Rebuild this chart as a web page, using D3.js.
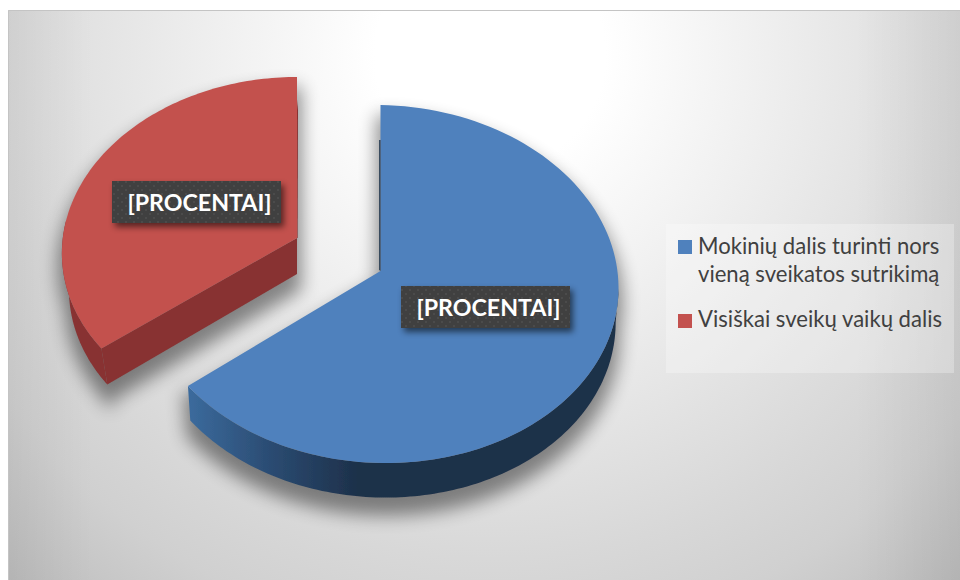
<!DOCTYPE html>
<html><head><meta charset="utf-8">
<script src="https://cdn.jsdelivr.net/npm/d3@7"></script>
<style>html,body{margin:0;padding:0;background:#fff;overflow:hidden}svg{display:block}</style>
</head><body><svg id="c" width="960" height="580"></svg>
<script>
const categories = ["Mokinių dalis turinti nors vieną sveikatos sutrikimą", "Visiškai sveikų vaikų dalis"];
const legendLines = [["Mokinių dalis turinti nors", "vieną sveikatos sutrikimą"], ["Visiškai sveikų vaikų dalis"]];
const values = [65, 35];
const dataLabels = ["[PROCENTAI]", "[PROCENTAI]"];
const topColors = ["#4f81bd", "#c3514e"];
const sideColors = ["#1d3049", "#883232"];

const svg = d3.select("#c");
const defs = svg.append("defs");

const bg = defs.append("radialGradient").attr("id","bg").attr("gradientUnits","userSpaceOnUse")
  .attr("cx",490).attr("cy",55).attr("r",720);
[[0,"#ffffff"],[0.16,"#ffffff"],[0.44,"#ebebeb"],[0.7,"#d8d8d8"],[0.82,"#d0d0d0"],[1,"#bcbcbc"]]
  .forEach(s=>bg.append("stop").attr("offset",s[0]).attr("stop-color",s[1]));

const vign = defs.append("linearGradient").attr("id","vign").attr("gradientUnits","userSpaceOnUse")
  .attr("x1",8).attr("x2",960).attr("y1",0).attr("y2",0);
[[0,0.05],[0.09,0],[0.89,0],[1,0.06]].forEach(s=>vign.append("stop").attr("offset",s[0]).attr("stop-color","#000").attr("stop-opacity",s[1]));

const sg = defs.append("linearGradient").attr("id","blueSide").attr("gradientUnits","userSpaceOnUse")
  .attr("x1",190).attr("x2",360).attr("y1",0).attr("y2",0);
[[0,"#3b6a9c"],[0.5,"#2a4a70"],[1,"#1d3049"]].forEach(s=>sg.append("stop").attr("offset",s[0]).attr("stop-color",s[1]));

const blur = defs.append("filter").attr("id","blur").attr("x","-20%").attr("y","-20%").attr("width","140%").attr("height","140%");
blur.append("feGaussianBlur").attr("stdDeviation",9);
const blur2 = defs.append("filter").attr("id","blur2").attr("x","-20%").attr("y","-40%").attr("width","140%").attr("height","180%");
blur2.append("feGaussianBlur").attr("stdDeviation",3);
const soft = defs.append("filter").attr("id","soft").attr("x","-5%").attr("y","-5%").attr("width","110%").attr("height","110%");
soft.append("feGaussianBlur").attr("stdDeviation",0.5);

const pat = defs.append("pattern").attr("id","dots").attr("patternUnits","userSpaceOnUse").attr("width",8).attr("height",8);
pat.append("rect").attr("width",8).attr("height",8).attr("fill","#404040");
pat.append("circle").attr("cx",2).attr("cy",2).attr("r",1).attr("fill","#4e4e4e");
pat.append("circle").attr("cx",6).attr("cy",6).attr("r",1).attr("fill","#4e4e4e");

svg.append("rect").attr("x",8).attr("y",10).attr("width",952).attr("height",570).attr("fill","url(#bg)");
svg.append("rect").attr("x",8).attr("y",10).attr("width",952).attr("height",570).attr("fill","url(#vign)");
svg.append("path").attr("d","M8.5 580V10.5H960").attr("fill","none").attr("stroke","#c4c4c4");

// d3.pie supplies the slice angles (t = clockwise from the top)
const arcs = d3.pie().sort(null)(values);

// projected geometry of each exploded slice
const geo = [
  {cx:380.5, cy:284, ax:238, bx:0, ay:4, ry:179, apex:[380.5,271], depth:34.5, shrink:0.012, px:381},
  {cx:290, cy:248, ax:228, bx:7, ay:0, ry:171, apex:[297,238], depth:36, shrink:0.03, px:297}
];
const rim = (g,t)=>[g.cx + g.ax*Math.sin(t) + g.bx*Math.cos(t), g.cy - g.ry*Math.cos(t) + g.ay*Math.sin(t)];
const down = (g,p)=>[p[0] + (g.px-p[0])*g.shrink, p[1] + g.depth];
const line = d3.line();
const rimPts = (g,a,b)=>d3.range(0,121).map(i=>rim(g,a+(b-a)*i/120));

const faces = arcs.map((a,i)=>line([geo[i].apex,...rimPts(geo[i],a.startAngle,a.endAngle)])+"Z");

function sides(i){
  const a=arcs[i], g=geo[i], out=[];
  const s=Math.max(a.startAngle,Math.PI/2), e=Math.min(a.endAngle,i===1?Math.PI*1.55:a.endAngle);
  const r=rimPts(g,s,e);
  out.push({d:line([...r,...r.slice().reverse().map(p=>down(g,p))])+"Z", fill:i===0?"url(#blueSide)":sideColors[i]});
  if(i===1){
    const r0=rim(g,a.startAngle);
    out.push({d:line([g.apex,r0,down(g,r0),down(g,g.apex)])+"Z", fill:sideColors[i]});
  }
  return out;
}

// shadows
const sh = svg.append("g").attr("filter","url(#blur)").attr("opacity",0.44).attr("transform","translate(0,14)");
arcs.forEach((a,i)=>{
  sh.append("path").attr("d",faces[i]).attr("fill","#000").attr("stroke","#000").attr("stroke-width",8);
  sides(i).forEach(s=>sh.append("path").attr("d",s.d).attr("fill","#000").attr("stroke","#000").attr("stroke-width",8));
});

// slices
const pieG = svg.append("g").attr("filter","url(#soft)");
[1,0].forEach(i=>{
  const g=pieG.append("g");
  sides(i).forEach(s=>g.append("path").attr("d",s.d).attr("fill",s.fill));
  g.append("path").attr("d",faces[i]).attr("fill",topColors[i]);
});
// thin back edges of the straight cuts
pieG.append("path").attr("d",line([[380.5,140],[379.2,140],[379.2,270],[380.5,271]])+"Z").attr("fill",sideColors[0]);
pieG.append("path").attr("d",line([[297,100],[298,110],[297.6,238],[297,238]])+"Z").attr("fill",sideColors[1]);

// data labels
const labelPos=[[485.5,307],[196.5,202]];
dataLabels.forEach((t,i)=>{
  const [x,y]=labelPos[i];
  svg.append("rect").attr("x",x-84.5+3).attr("y",y-21+4).attr("width",169).attr("height",42)
    .attr("fill","#000").attr("opacity",0.55).attr("filter","url(#blur2)");
  svg.append("rect").attr("x",x-84.5).attr("y",y-21).attr("width",169).attr("height",42).attr("fill","url(#dots)");
  svg.append("text").attr("x",x+3).attr("y",y+9).attr("text-anchor","middle")
    .attr("font-family","Lato").attr("font-weight",700).attr("font-size",23.2).attr("fill","#fff").text(t);
});

// legend
svg.append("rect").attr("x",666).attr("y",224).attr("width",288).attr("height",149).attr("fill","#fff").attr("opacity",0.28);
const swY=[240,314], textY=[[254,282],[327]];
categories.forEach((c,i)=>{
  svg.append("rect").attr("x",678).attr("y",swY[i]).attr("width",14).attr("height",14).attr("fill",topColors[i]);
  legendLines[i].forEach((l,j)=>svg.append("text").attr("x",698).attr("y",textY[i][j])
    .attr("font-family","Lato").attr("font-size",22.1).attr("fill","#404040").text(l));
});
</script></body></html>
